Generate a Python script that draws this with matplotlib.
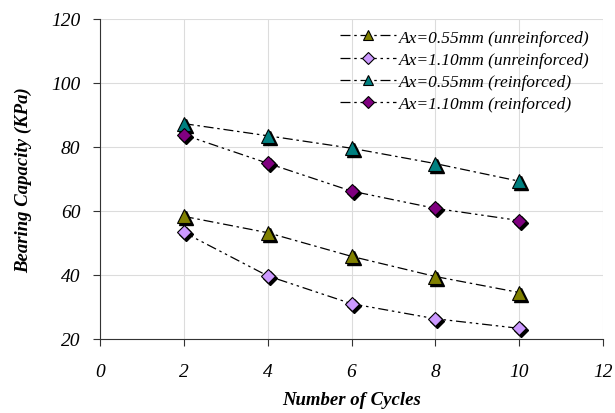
import matplotlib
matplotlib.use("Agg")
import matplotlib.pyplot as plt
from matplotlib.transforms import ScaledTranslation

plt.rcParams['font.family'] = ['Liberation Serif', 'DejaVu Serif']

cycles = [2, 4, 6, 8, 10]
ax055_unreinf = [58.3, 53.2, 45.8, 39.5, 34.5]
ax110_unreinf = [53.3, 39.7, 31.0, 26.3, 23.3]
ax055_reinf = [87.3, 83.5, 79.6, 74.8, 69.3]
ax110_reinf = [83.8, 74.9, 66.2, 60.8, 57.0]

labels = ['Ax=0.55mm (unreinforced)', 'Ax=1.10mm (unreinforced)',
          'Ax=0.55mm (reinforced)', 'Ax=1.10mm (reinforced)']
colors = ['#808000', '#CC99FF', '#008080', '#800080']
markers = ['^', 'D', '^', 'D']
sizes = [10, 7.5, 10, 7.5]
dashes = [(8, 3, 2, 3), (8, 3, 2, 3, 2, 3), (8, 3, 2, 3), (8, 3, 2, 3, 2, 3)]
series = [ax055_unreinf, ax110_unreinf, ax055_reinf, ax110_reinf]

fig = plt.figure(figsize=(6.15, 4.14), dpi=100)
ax = fig.add_axes([0.1626, 0.179, 0.8179, 0.7727])

# small black offset copy under each marker (drop shadow)
shadow = ax.transData + ScaledTranslation(1.5 / 72, -1.5 / 72, fig.dpi_scale_trans)

for y, lab, c, m, s, d in zip(series, labels, colors, markers, sizes, dashes):
    ax.plot(cycles, y, linestyle='none', marker=m, markersize=s,
            color='black', transform=shadow, zorder=3)
    ax.plot(cycles, y, color='black', linewidth=0.9, dashes=d,
            marker=m, markersize=s, markerfacecolor=c,
            markeredgecolor='black', markeredgewidth=0.8,
            label=lab, zorder=4)

ax.set_xlim(0, 12)
ax.set_ylim(20, 120)
ax.set_xticks(range(0, 13, 2))
ax.set_yticks(range(20, 121, 20))
ax.grid(True, color='#dcdcdc', linewidth=0.8)
ax.set_axisbelow(True)
for side in ['top', 'right']:
    ax.spines[side].set_visible(False)
for side in ['left', 'bottom']:
    ax.spines[side].set_color('#333333')
ax.tick_params(direction='out', length=5, color='#333333', pad=9)
ax.tick_params(axis='x', pad=12)
for t in ax.get_xticklabels() + ax.get_yticklabels():
    t.set_fontstyle('italic')
    t.set_fontsize(14)

ax.set_xlabel('Number of Cycles', fontsize=13.5, fontweight='bold',
              fontstyle='italic', labelpad=8)
ax.set_ylabel('Bearing Capacity (KPa)', fontsize=13.5, fontweight='bold',
              fontstyle='italic', labelpad=14)

leg = ax.legend(loc='upper right', bbox_to_anchor=(0.995, 1.0), frameon=False,
                prop={'style': 'italic', 'size': 12.5}, handlelength=3.2,
                handletextpad=0.2, labelspacing=0.35, markerscale=0.75,
                borderaxespad=0.2)

fig.savefig('out.png', dpi=100)
